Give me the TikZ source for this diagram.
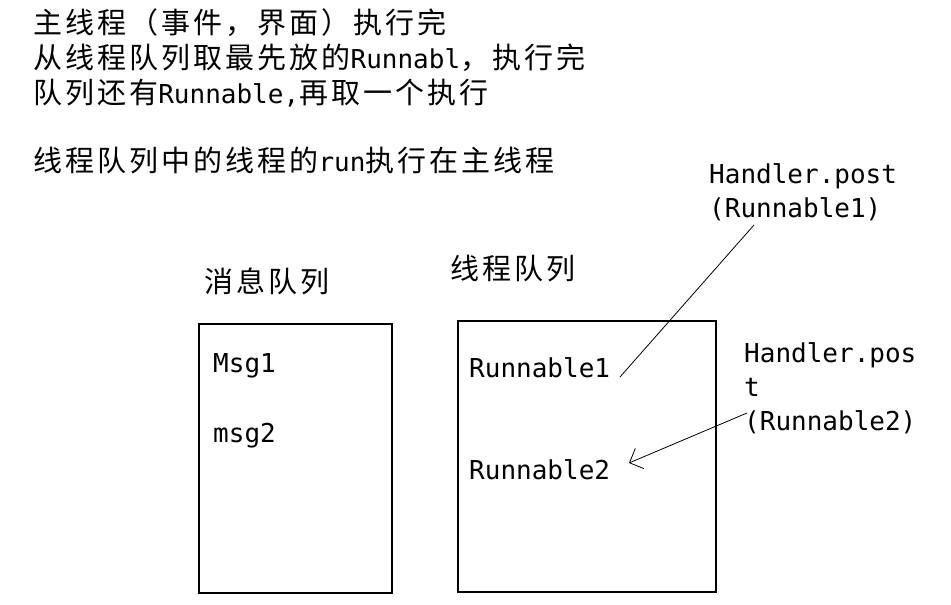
\documentclass[tikz,border=0pt]{standalone}
\usepackage{fontspec}
\usetikzlibrary{arrows.meta}
\newfontfamily\cjkfam[LetterSpace=10.5]{Noto Sans CJK SC}
\newfontfamily\monofam{DejaVu Sans Mono}
\newcommand\zhtxt[1]{{\cjkfam\fontsize{29}{35}\selectfont #1}}
\newcommand\entxt[1]{{\monofam\fontsize{26}{34}\selectfont #1}}
\tikzset{
  txt/.style={inner sep=0pt, anchor=base west, text=black},
  label/.style={inner sep=0pt, anchor=north west, align=left, font=\monofam\fontsize{26}{34}\selectfont},
  queuebox/.style={draw=black, line width=1.2pt, inner sep=0pt},
  conn/.style={draw=black, line width=0.8pt},
}
\begin{document}
\begin{tikzpicture}[x=1pt,y=-1pt]
\useasboundingbox[fill=white] (0,0) rectangle (951,605);
% top notes
\node[txt] (l1) at (33,33) {\zhtxt{主线程（事件，界面）执行完}};
\node[txt] (l2) at (33,68) {\zhtxt{从线程队列取最先放的}\entxt{Runnabl}\zhtxt{，执行完}};
\node[txt] (l3) at (33,103) {\zhtxt{队列还有}\entxt{Runnable,}\zhtxt{再取一个执行}};
\node[txt] (l5) at (33,171) {\zhtxt{线程队列中的线程的}\entxt{run}\zhtxt{执行在主线程}};
% boxes
\draw[queuebox] (199,324) rectangle (392,593);
\draw[queuebox] (458,321) rectangle (716,592);
\node[txt] (mqtitle) at (204,292) {\zhtxt{消息队列}};
\node[txt] (tqtitle) at (450,279) {\zhtxt{线程队列}};
\node[txt] (msg1) at (213,372) {\entxt{Msg1}};
\node[txt] (msg2) at (213,442) {\entxt{msg2}};
\node[txt] (r1) at (469,377) {\entxt{Runnable1}};
\node[txt] (r2) at (469,479) {\entxt{Runnable2}};
% handler labels
\node[label] (h1) at (709,163) {Handler.post\\(Runnable1)};
\node[label] (h2) at (744,342) {Handler.pos\\t\\(Runnable2)};
% connectors
\coordinate (h1foot) at (754,225);
\coordinate (r1end) at (620,377);
\coordinate (h2start) at (747,413);
\coordinate (r2end) at (629,463);
\draw[conn] (h1foot) -- (r1end);
\draw[conn, -{Straight Barb[length=11pt,width=22pt,line width=0.8pt]}] (h2start) -- (r2end);
\end{tikzpicture}
\end{document}
